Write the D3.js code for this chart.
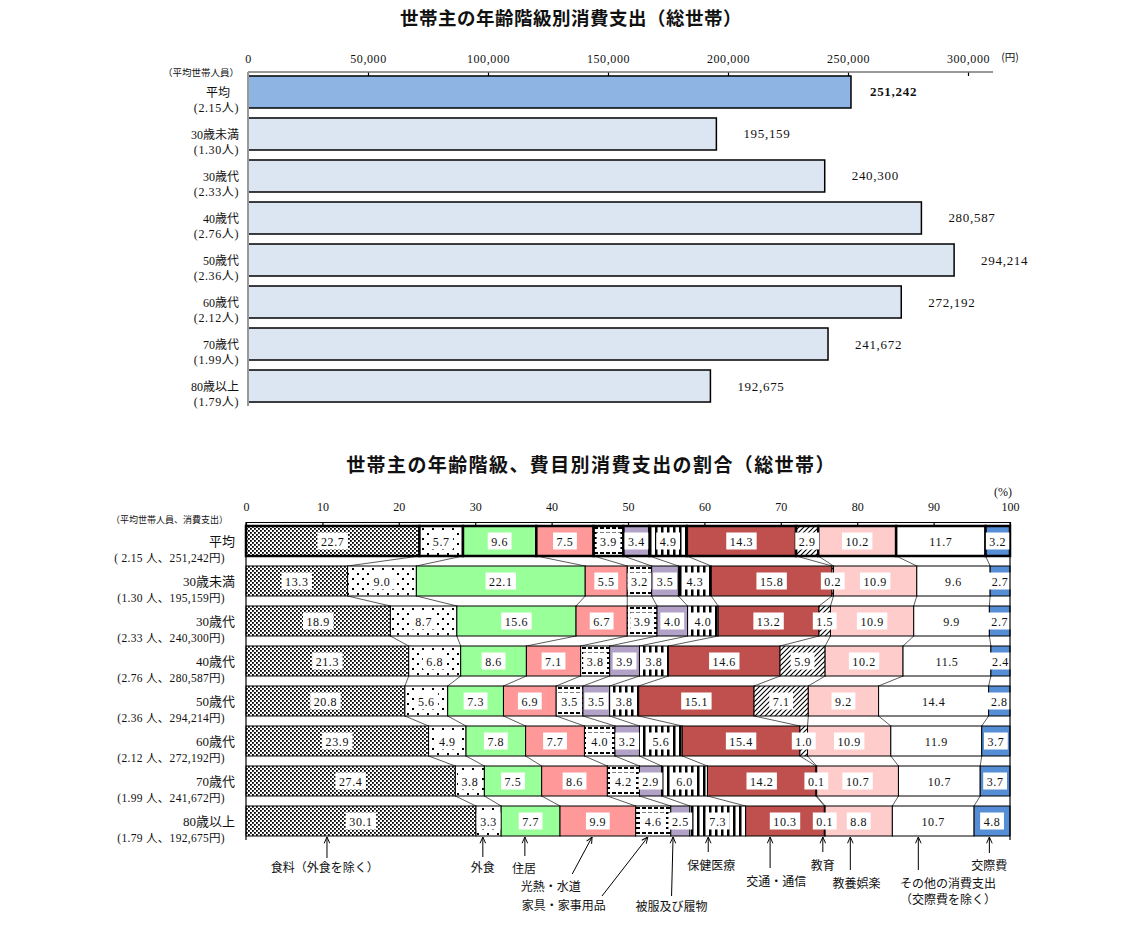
<!DOCTYPE html>
<html>
<head>
<meta charset="utf-8">
<script src="https://cdn.jsdelivr.net/npm/d3@7"></script>
<style>
  body { margin: 0; background: #fff; }
  svg text { font-family: "Liberation Serif", "Noto Sans CJK JP", serif; fill: #111; }
  svg text.jp { font-family: "Noto Sans CJK JP", sans-serif; }
</style>
</head>
<body>
<svg id="chart"></svg>
<script>
// ---- data ----
const ageGroups = ["平均", "30歳未満", "30歳代", "40歳代", "50歳代", "60歳代", "70歳代", "80歳以上"];
const householdSize = ["2.15", "1.30", "2.33", "2.76", "2.36", "2.12", "1.99", "1.79"];
const spending = [251242, 195159, 240300, 280587, 294214, 272192, 241672, 192675];
const spendTicks = [0, 50000, 100000, 150000, 200000, 250000, 300000];

const items = ["食料（外食を除く）", "外食", "住居", "光熱・水道", "家具・家事用品", "被服及び履物",
  "保健医療", "交通・通信", "教育", "教養娯楽", "その他の消費支出", "交際費"];
const shares = [
  [22.7, 5.7, 9.6, 7.5, 3.9, 3.4, 4.9, 14.3, 2.9, 10.2, 11.7, 3.2],
  [13.3, 9.0, 22.1, 5.5, 3.2, 3.5, 4.3, 15.8, 0.2, 10.9, 9.6, 2.7],
  [18.9, 8.7, 15.6, 6.7, 3.9, 4.0, 4.0, 13.2, 1.5, 10.9, 9.9, 2.7],
  [21.3, 6.8, 8.6, 7.1, 3.8, 3.9, 3.8, 14.6, 5.9, 10.2, 11.5, 2.4],
  [20.8, 5.6, 7.3, 6.9, 3.5, 3.5, 3.8, 15.1, 7.1, 9.2, 14.4, 2.8],
  [23.9, 4.9, 7.8, 7.7, 4.0, 3.2, 5.6, 15.4, 1.0, 10.9, 11.9, 3.7],
  [27.4, 3.8, 7.5, 8.6, 4.2, 2.9, 6.0, 14.2, 0.1, 10.7, 10.7, 3.7],
  [30.1, 3.3, 7.7, 9.9, 4.6, 2.5, 7.3, 10.3, 0.1, 8.8, 10.7, 4.8]
];
const shareTicks = [0, 10, 20, 30, 40, 50, 60, 70, 80, 90, 100];

// callouts under the last bar: arrow tip / tail in % units, label centre in % units
const callouts = [
  { tip: 10.6, tail: 10.6, tailY: 858, cx: 10.3, ly: [872] },
  { tip: 31.0, tail: 31.0, tailY: 857, cx: 31.0, ly: [872] },
  { tip: 36.5, tail: 36.5, tailY: 856, cx: 36.4, ly: [873] },
  { tip: 45.3, tail: 42.7, tailY: 874, cx: 39.9, ly: [891] },
  { tip: 52.6, tail: 46.6, tailY: 896, cx: 41.6, ly: [910] },
  { tip: 55.9, tail: 55.7, tailY: 896, cx: 55.7, ly: [911] },
  { tip: 60.5, tail: 60.5, tailY: 852, cx: 60.9, ly: [870] },
  { tip: 68.6, tail: 68.6, tailY: 868, cx: 69.4, ly: [886] },
  { tip: 75.5, tail: 75.5, tailY: 852, cx: 75.5, ly: [870] },
  { tip: 79.1, tail: 79.1, tailY: 870, cx: 79.9, ly: [888] },
  { tip: 88.0, tail: 88.0, tailY: 870, cx: 91.9, ly: [888, 904] },
  { tip: 97.3, tail: 97.3, tailY: 853, cx: 97.3, ly: [870] }
];

const width = 1122, height = 925;
const svg = d3.select("#chart").attr("width", width).attr("height", height);
const fmt = d3.format(",");

// ---- patterns ----
const defs = svg.append("defs");
function pattern(id, w, h, draw) {
  const p = defs.append("pattern").attr("id", id)
    .attr("patternUnits", "userSpaceOnUse").attr("width", w).attr("height", h);
  p.append("rect").attr("width", w).attr("height", h).attr("fill", "#fff");
  draw(p);
}
pattern("pFood", 4, 4, p => {
  p.append("rect").attr("x", 0).attr("y", 0).attr("width", 1.8).attr("height", 1.8).attr("fill", "#000");
  p.append("rect").attr("x", 2).attr("y", 2).attr("width", 1.8).attr("height", 1.8).attr("fill", "#000");
});
pattern("pOut", 10, 10, p => {
  p.append("rect").attr("x", 2).attr("y", 2).attr("width", 2).attr("height", 2).attr("fill", "#000");
  p.append("rect").attr("x", 7).attr("y", 7).attr("width", 2).attr("height", 2).attr("fill", "#000");
});
pattern("pFurn", 6, 5, p => {
  p.append("rect").attr("x", 0).attr("y", 1).attr("width", 4).attr("height", 2).attr("fill", "#000");
});
pattern("pHealth", 6, 6, p => {
  p.append("rect").attr("x", 1).attr("y", 0).attr("width", 2.5).attr("height", 6).attr("fill", "#000");
});
pattern("pEdu", 5, 5, p => {
  p.append("path").attr("d", "M-1,6 L6,-1 M-1,1 L1,-1 M4,6 L6,4").attr("stroke", "#000").attr("stroke-width", 1.1);
});
const fills = ["url(#pFood)", "url(#pOut)", "#99ff99", "#ff9999", "url(#pFurn)", "#b3a2c7",
  "url(#pHealth)", "#c0504d", "url(#pEdu)", "#ffcccc", "#ffffff", "#558ed5"];

defs.append("marker").attr("id", "arrow")
  .attr("viewBox", "0 0 10 10").attr("refX", 10).attr("refY", 5)
  .attr("markerUnits", "userSpaceOnUse").attr("markerWidth", 7).attr("markerHeight", 7)
  .attr("orient", "auto")
  .append("path").attr("d", "M1,1 L10,5 L1,9").attr("fill", "none").attr("stroke", "#000").attr("stroke-width", 1.4);

// ================= top chart =================
svg.append("text").attr("class", "jp").attr("x", 571).attr("y", 25)
  .attr("text-anchor", "middle").attr("font-size", 18.5).attr("font-weight", "bold").attr("letter-spacing", 0.5)
  .text("世帯主の年齢階級別消費支出（総世帯）");

const xTop = d3.scaleLinear().domain([0, 300000]).range([248, 968]);
const yTop = d3.scaleBand().domain(ageGroups).range([72, 406]).paddingInner(0.238).paddingOuter(0.095);

const topAxis = svg.append("g").attr("transform", "translate(0,72)")
  .call(d3.axisTop(xTop).tickValues(spendTicks).tickFormat(fmt).tickSize(-4).tickSizeOuter(0).tickPadding(9));
topAxis.select(".domain").remove();
topAxis.selectAll(".tick line").attr("stroke", "#000").attr("stroke-width", 1.2);
topAxis.selectAll("text").attr("font-size", 12).attr("letter-spacing", 0.6).attr("fill", "#111");
topAxis.attr("font-family", null);
svg.append("line").attr("x1", 248).attr("x2", 993).attr("y1", 72).attr("y2", 72).attr("stroke", "#777").attr("stroke-width", 1.5);
svg.append("text").attr("class", "jp").attr("x", 1010).attr("y", 61).attr("text-anchor", "middle").attr("font-size", 10.5).text("(円)");

svg.selectAll(".topbar").data(ageGroups).enter().append("rect")
  .attr("class", "topbar")
  .attr("x", xTop(0)).attr("y", d => yTop(d))
  .attr("width", (d, i) => xTop(spending[i]) - xTop(0)).attr("height", yTop.bandwidth())
  .attr("fill", (d, i) => i === 0 ? "#8eb4e3" : "#dce6f2")
  .attr("stroke", "#000").attr("stroke-width", 1.5);

svg.append("line").attr("x1", 248).attr("x2", 248).attr("y1", 72).attr("y2", 406).attr("stroke", "#999").attr("stroke-width", 2);

svg.selectAll(".topval").data(ageGroups).enter().append("text")
  .attr("x", (d, i) => xTop(spending[i]) + (i === 0 ? 19 : 27))
  .attr("y", d => yTop(d) + yTop.bandwidth() / 2 + 4.5)
  .attr("font-size", 13).attr("letter-spacing", 0.7)
  .attr("font-weight", (d, i) => i === 0 ? "bold" : "normal")
  .text((d, i) => fmt(spending[i]));

svg.append("text").attr("class", "jp").attr("x", 239).attr("y", 76).attr("text-anchor", "end")
  .attr("font-size", 9.5).text("（平均世帯人員）");
const topLab = svg.selectAll(".toplab").data(ageGroups).enter().append("g")
  .attr("transform", d => `translate(239,${yTop(d) + yTop.bandwidth() / 2})`);
topLab.append("text").attr("y", 5).attr("x", d => d === "平均" ? -9 : 0).attr("text-anchor", "end").attr("font-size", 12).text(d => d);
topLab.append("text").attr("y", 20).attr("text-anchor", "end").attr("font-size", 12).attr("letter-spacing", 0.6)
  .text((d, i) => `(${householdSize[i]}人)`);

// ================= bottom chart =================
svg.append("text").attr("class", "jp").attr("x", 591).attr("y", 472)
  .attr("text-anchor", "middle").attr("font-size", 19).attr("font-weight", "bold").attr("letter-spacing", 1.4)
  .text("世帯主の年齢階級、費目別消費支出の割合（総世帯）");

const xs = d3.scaleLinear().domain([0, 100]).range([246, 1010]);
const ys = d3.scaleBand().domain(ageGroups).range([522, 840]).paddingInner(0.25).paddingOuter(0.1);

const botAxis = svg.append("g").attr("transform", "translate(0,522)")
  .call(d3.axisTop(xs).tickValues(shareTicks).tickSize(-4).tickSizeOuter(0).tickPadding(11));
botAxis.attr("font-family", null);
botAxis.select(".domain").attr("stroke", "#000").attr("stroke-width", 1.2);
botAxis.selectAll(".tick line").attr("stroke", "#000").attr("stroke-width", 1.2);
botAxis.selectAll("text").attr("font-size", 12).attr("fill", "#111");
svg.append("text").attr("x", 1003).attr("y", 496).attr("text-anchor", "middle").attr("font-size", 12).text("(%)");

// stacked rows
const rows = shares.map((vals, r) => {
  const ends = Array.from(d3.cumsum(vals), v => Math.min(v, 100));
  return vals.map((v, k) => ({ r, k, v, x0: k === 0 ? 0 : ends[k - 1], x1: k === vals.length - 1 ? 100 : ends[k] }));
});

// connector lines between rows
const links = [];
for (let r = 0; r < rows.length - 1; r++) {
  for (let k = 0; k < items.length - 1; k++) {
    links.push({ a: rows[r][k].x1, b: rows[r + 1][k].x1, r });
  }
}
svg.selectAll(".link").data(links).enter().append("line")
  .attr("x1", d => xs(d.a)).attr("y1", d => ys(ageGroups[d.r]) + ys.bandwidth())
  .attr("x2", d => xs(d.b)).attr("y2", d => ys(ageGroups[d.r + 1]))
  .attr("stroke", "#333").attr("stroke-width", 0.8);

const rowG = svg.selectAll(".row").data(rows).enter().append("g")
  .attr("transform", (d, r) => `translate(0,${ys(ageGroups[r])})`);

rowG.selectAll("rect.seg").data(d => d).enter().append("rect")
  .attr("class", "seg")
  .attr("x", d => xs(d.x0)).attr("y", 0)
  .attr("width", d => xs(d.x1) - xs(d.x0)).attr("height", ys.bandwidth())
  .attr("fill", d => fills[d.k])
  .attr("stroke", "#000").attr("stroke-width", d => d.r === 0 ? 2.5 : 1);

const valG = rowG.selectAll("g.val").data(d => d).enter().append("g")
  .attr("transform", d => `translate(${(xs(d.x0) + xs(d.x1)) / 2},${ys.bandwidth() / 2})`);
valG.append("rect").attr("class", "box").attr("fill", "#fff");
valG.append("text").attr("text-anchor", "middle").attr("y", 4.5).attr("font-size", 12).attr("letter-spacing", 0.6)
  .text(d => d.v.toFixed(1));
valG.each(function () {
  const g = d3.select(this);
  const w = g.select("text").node().getComputedTextLength() + 7;
  g.select("rect").attr("x", -w / 2).attr("y", -8.5).attr("width", w).attr("height", 17);
});

// frame
svg.append("line").attr("x1", xs(0)).attr("x2", xs(0)).attr("y1", 522).attr("y2", 840).attr("stroke", "#000").attr("stroke-width", 1.2);
svg.append("line").attr("x1", xs(100)).attr("x2", xs(100)).attr("y1", 522).attr("y2", 840).attr("stroke", "#000").attr("stroke-width", 1.2);

// row labels
svg.append("text").attr("class", "jp").attr("x", 228).attr("y", 523).attr("text-anchor", "end")
  .attr("font-size", 9).text("（平均世帯人員、消費支出）");
const botLab = svg.selectAll(".botlab").data(ageGroups).enter().append("g")
  .attr("transform", d => `translate(0,${ys(d) + ys.bandwidth() / 2})`);
botLab.append("text").attr("x", 235).attr("y", 5).attr("text-anchor", "end").attr("font-size", 13).text(d => d);
botLab.append("text").attr("x", 225).attr("y", 21).attr("text-anchor", "end").attr("font-size", 11.5).attr("letter-spacing", 0.3)
  .text((d, i) => `(${i === 0 ? " " : ""}${householdSize[i]} 人、${fmt(spending[i])}円)`);

// callouts
const lastBottom = ys(ageGroups[ageGroups.length - 1]) + ys.bandwidth() + 1;
svg.selectAll(".callline").data(callouts).enter().append("line")
  .attr("x1", d => xs(d.tail)).attr("y1", d => d.tailY)
  .attr("x2", d => xs(d.tip)).attr("y2", lastBottom)
  .attr("stroke", "#000").attr("stroke-width", 1).attr("marker-end", "url(#arrow)");
const itemLines = items.map((t, i) => i === 10 ? [t, "（交際費を除く）"] : [t]);
svg.selectAll(".calltext").data(callouts).enter().append("text")
  .attr("class", "jp").attr("text-anchor", "middle").attr("font-size", 12)
  .each(function (d, i) {
    d3.select(this).selectAll("tspan").data(itemLines[i]).enter().append("tspan")
      .attr("x", xs(d.cx)).attr("y", (t, j) => d.ly[j]).text(t => t);
  });
</script>
</body>
</html>
